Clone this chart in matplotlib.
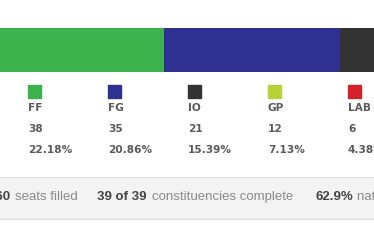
import matplotlib.pyplot as plt

# party results (visible part of the widget)
parties = ['FF', 'FG', 'IO', 'GP', 'LAB']
seats = [38, 35, 21, 12, 6]
vote_pct = ['22.18%', '20.86%', '15.39%', '7.13%', '4.38%']
colors = ['#3db14b', '#2e3190', '#333333', '#b6d236', '#d42229']

# footer stats
seats_filled = '160'
const_done = '39 of 39'
turnout = '62.9%'

W, H = 374, 248


def px(x, y):
    # pixel coords (top-left origin) to figure fraction
    return x / W, 1 - y / H


def main():
    fig = plt.figure(figsize=(W / 100, H / 100), dpi=100)
    fig.patch.set_facecolor('white')

    # stacked seat bar
    x0, y0 = px(0, 72)
    ax = fig.add_axes([0, y0, 1, 44 / H])
    left = 0
    for p, s, c in zip(parties, seats, colors):
        ax.barh(0, s, left=left, height=1, color=c, edgecolor='none')
        left += s
    ax.set_xlim(5.4, 5.4 + W / 5.03)
    ax.set_ylim(-0.5, 0.5)
    ax.axis('off')

    # legend columns
    for i, (p, s, v, c) in enumerate(zip(parties, seats, vote_pct, colors)):
        cx = 28 + 80 * i
        sx, sy = px(cx, 98)
        fig.add_artist(plt.Rectangle((sx, sy), 13 / W, 13 / H, color=c,
                                     transform=fig.transFigure))
        for txt, yy in [(p, 108), (str(s), 129), (v, 150)]:
            tx, ty = px(cx, yy)
            fig.text(tx, ty, txt, fontsize=7.6, fontweight='bold',
                     color='#5a5a5a', ha='left', va='center',
                     family='DejaVu Sans')

    # footer box
    bx, by = px(-2, 219)
    fig.add_artist(plt.Rectangle((bx, by), 1.02, 42 / H,
                                 facecolor='#f3f3f3', edgecolor='#dddddd',
                                 lw=0.8, transform=fig.transFigure))
    parts = [
        (10, seats_filled, 'bold', '#444444', 'right'),
        (15, 'seats filled', 'normal', '#8a8a8a', 'left'),
        (97, const_done, 'bold', '#444444', 'left'),
        (152, 'constituencies complete', 'normal', '#8a8a8a', 'left'),
        (316, turnout, 'bold', '#444444', 'left'),
        (357, 'national turnout', 'normal', '#8a8a8a', 'left'),
    ]
    for xx, txt, wt, col, ha in parts:
        tx, ty = px(xx, 197)
        fig.text(tx, ty, txt, fontsize=9.5, fontweight=wt, color=col,
                 ha=ha, va='center', family='Liberation Sans')

    fig.savefig('out.png', dpi=100)


if __name__ == '__main__':
    main()
